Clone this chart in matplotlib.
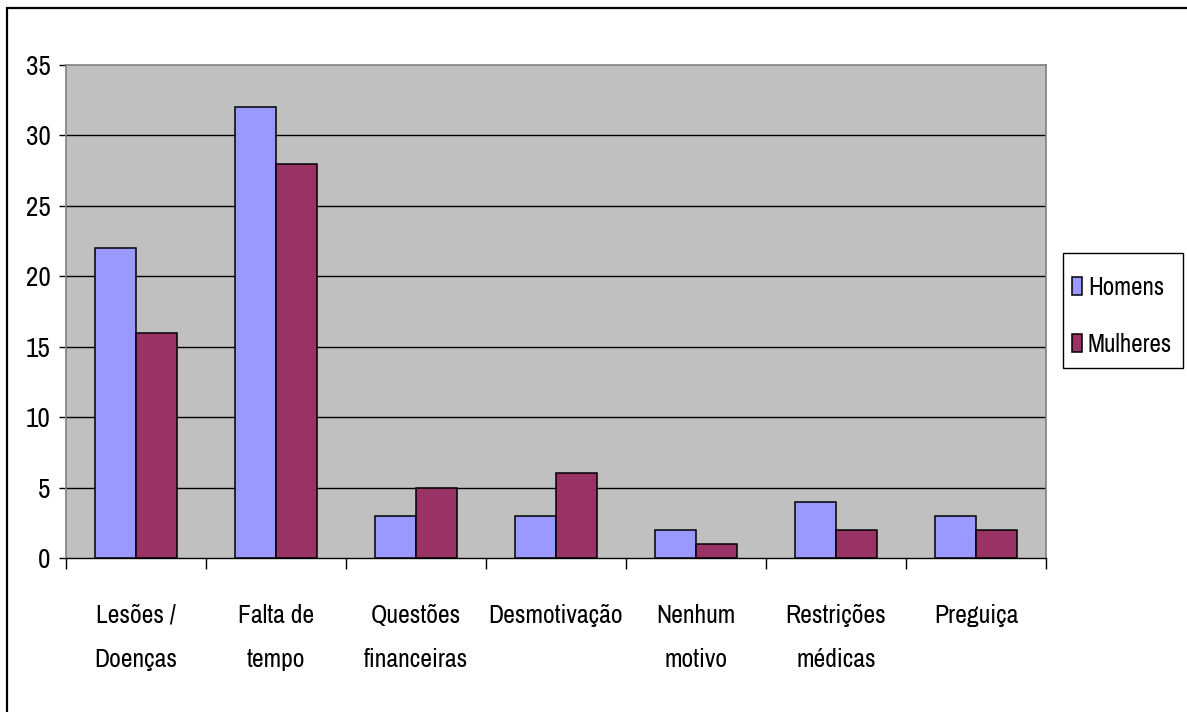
import matplotlib
matplotlib.use("Agg")
import matplotlib.pyplot as plt
from matplotlib.patches import Rectangle
import numpy as np

categories = ["Lesões /\nDoenças", "Falta de\ntempo", "Questões\nfinanceiras",
              "Desmotivação", "Nenhum\nmotivo", "Restrições\nmédicas", "Preguiça"]
homens = [22, 32, 3, 3, 2, 4, 3]
mulheres = [16, 28, 5, 6, 1, 2, 2]
y_ticks = [0, 5, 10, 15, 20, 25, 30, 35]

plt.rcParams['font.family'] = ['Archivo Narrow', 'Liberation Sans', 'DejaVu Sans']

W, H = 1187, 712
fig = plt.figure(figsize=(W / 100, H / 100), dpi=100)
ax = fig.add_axes([66 / W, 1 - 558 / H, 980 / W, 493 / H])
ax.set_facecolor("#C0C0C0")

x = np.arange(len(categories))
w = 0.295
ax.bar(x - w / 2, homens, w, color="#9999FF", edgecolor="black", linewidth=1.1,
       label="Homens", zorder=3)
ax.bar(x + w / 2, mulheres, w, color="#993366", edgecolor="black", linewidth=1.1,
       label="Mulheres", zorder=3)

ax.set_xlim(-0.5, len(categories) - 0.5)
ax.set_ylim(0, 35)
ax.set_yticks(y_ticks)
ax.tick_params(axis="y", labelsize=19.5, length=5, width=1, direction="out", pad=6)
for yv in y_ticks[1:-1]:
    ax.axhline(yv, color="black", linewidth=1, zorder=1)

# boundary ticks between categories, labels centred under each group
ax.set_xticks(np.arange(len(categories) + 1) - 0.5)
ax.set_xticklabels([])
ax.tick_params(axis="x", length=8, width=1, direction="out")
ax.set_xticks(x, minor=True)
ax.set_xticklabels(categories, minor=True, fontsize=18.5, linespacing=2.1)
ax.tick_params(axis="x", which="minor", length=0, pad=33)

for side in ("top", "left", "right"):
    ax.spines[side].set_color("#808080")
    ax.spines[side].set_linewidth(1.2)
ax.spines["bottom"].set_color("black")
ax.spines["bottom"].set_linewidth(1)

# legend entries, with their own box drawn around them
leg = fig.legend(loc="upper left", bbox_to_anchor=(1063 / W, 1 - 267 / H),
                 fontsize=18, frameon=False,
                 handlelength=0.38, handleheight=0.75, handletextpad=0.25,
                 labelspacing=1.36, borderpad=0.36, borderaxespad=0)
fig.patches.append(Rectangle((1063 / W, 1 - 368 / H), 120 / W, 115 / H,
                             transform=fig.transFigure, facecolor="white",
                             edgecolor="black", linewidth=1, zorder=0))

# outer chart border
fig.patches.append(Rectangle((7 / W, -0.05), 1.2, 1 - 8 / H + 0.05,
                             transform=fig.transFigure, fill=False,
                             edgecolor="black", linewidth=1.6, clip_on=False))

fig.savefig("out.png", dpi=100)
